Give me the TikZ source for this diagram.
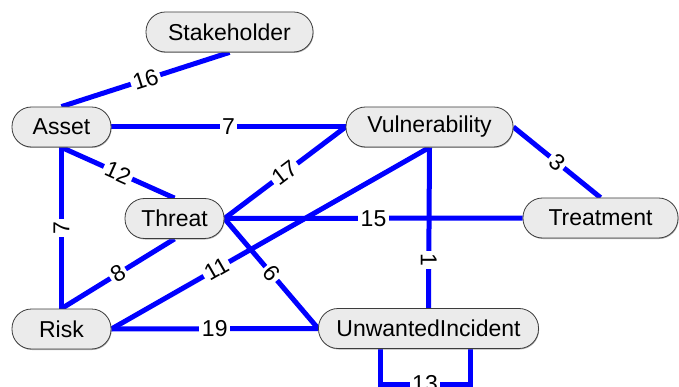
\documentclass[tikz,border=0pt]{standalone}
\usepackage{fontspec}
\setmainfont{Liberation Sans}
\usetikzlibrary{shadows,backgrounds}
\definecolor{boxfill}{RGB}{235,235,235}
\definecolor{boxline}{RGB}{60,60,60}
\tikzset{
  concept/.style={draw=boxline,fill=boxfill,line width=0.8pt,rounded corners=19.5pt,
    minimum height=40pt,inner sep=0pt,
    drop shadow={shadow xshift=0.6pt,shadow yshift=-1pt,fill=gray,opacity=0.6}},
  link/.style={draw=blue,line width=5pt},
  weight/.style={fill=white,inner sep=2.5pt}
}
\begin{document}
\begin{tikzpicture}[x=1pt,y=-1pt,font=\fontsize{23}{27}\selectfont]
            \useasboundingbox (0,0) rectangle (679,387);
            \node (stakeholder) at (229.5,32) [concept,minimum width=167pt] {Stakeholder};
            \node (asset) at (61.5,127) [concept,minimum width=99pt] {Asset};
            \node (vulnerability) at (429.5,127) [concept,minimum width=167pt] {Vulnerability};
            \node (threat) at (174.5,218.5) [concept,minimum width=99pt] {Threat};
            \node (treatment) at (600.5,218) [concept,minimum width=155pt] {Treatment};
            \node (risk) at (61.5,329) [concept,minimum width=99pt] {Risk};
            \node (incident) at (428.5,328.5) [concept,minimum width=220pt] {UnwantedIncident};
            \coordinate (loopa) at (380,384);
            \coordinate (loopb) at (470,384);
            \begin{scope}[on background layer]
            \draw[link] (stakeholder.south) -- node[weight,sloped] {16} (asset.north);
            \draw[link] (asset.east) -- node[weight] {7} (vulnerability.west);
            \draw[link] (asset.south) -- node[weight,sloped] {12} (threat.north);
            \draw[link] (risk.north) -- node[weight,rotate=90] {7} (asset.south);
            \draw[link] (threat.east) -- node[weight,sloped] {17} (vulnerability.west);
            \draw[link] (threat.east) -- node[weight] {15} (treatment.west);
            \draw[link] (threat.south) -- node[weight,sloped] {8} (risk.north);
            \draw[link] (threat.east) -- node[weight,sloped] {6} (incident.west);
            \draw[link] (risk.east) -- node[weight,sloped,pos=0.33] {11} (vulnerability.south);
            \draw[link] (risk.east) -- node[weight] {19} (incident.west);
            \draw[link] (vulnerability.south) -- node[weight,rotate=-90,pos=0.7] {1} (incident.north);
            \draw[link] (vulnerability.east) -- node[weight,sloped] {3} (treatment.north);
            \draw[link] (loopa |- incident.south) -- (loopa) -- node[weight] {13} (loopb) -- (loopb |- incident.south);
            \end{scope}
        \end{tikzpicture}
\end{document}
